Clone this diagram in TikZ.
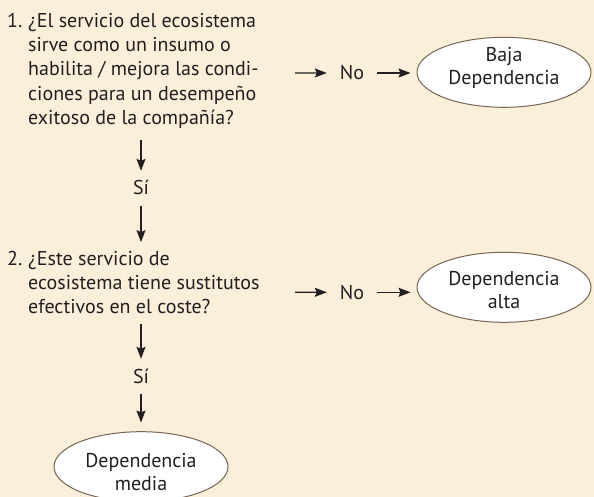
\documentclass[tikz,border=0pt]{standalone}
\usepackage{fontspec}
\setmainfont{PT Sans}
\usetikzlibrary{arrows.meta,shapes.geometric}
\definecolor{paper}{HTML}{FBEFDA}
\definecolor{ink}{HTML}{231F20}
\definecolor{rim}{HTML}{776553}
\def\qsize{\fontsize{20bp}{24.2bp}\selectfont}

\begin{document}
\begin{tikzpicture}[x=1bp, y=-1bp,
		arr/.style={draw=ink, line width=1.3bp, -{Stealth[length=12bp, width=9bp, inset=2bp]}},
		quest/.style={anchor=north west, inner sep=0pt, text=ink, font=\qsize},
		yeslbl/.style={anchor=base, inner sep=0pt, text=ink, font=\qsize, text height=24bp, text depth=11bp},
		nolbl/.style={anchor=base, inner sep=0pt, text=ink, font=\qsize, text height=14bp, text depth=0bp, minimum width=50bp},
		outcome/.style={ellipse, draw=rim, line width=1bp, fill=white, text=ink, inner sep=0pt,
			minimum width=174bp, minimum height=70bp, font=\fontsize{20bp}{23bp}\selectfont}]
		%%%%% START %%%%%
		
		\fill[paper] (0, 0) rectangle (594, 497);
		\useasboundingbox (0, 0) rectangle (594, 497);
		
		% questions
		\node[quest] (q1) at (7, 10.4) {\begin{tabular}[t]{@{}p{21bp}@{}l@{}}
				1.&¿El servicio del ecosistema\\
				&sirve como un insumo o\\
				&habilita / mejora las condi-\\
				&ciones para un desempeño\\
				&exitoso de la compañía?
			\end{tabular}};
		\node[quest] (q2) at (7, 248.1) {\begin{tabular}[t]{@{}p{21bp}@{}l@{}}
				2.&¿Este servicio de\\
				&ecosistema tiene sustitutos\\
				&efectivos en el coste?
			\end{tabular}};
		
		% answers
		\node[yeslbl] (si1) at (141, 195) {Sí};
		\node[yeslbl] (si2) at (141, 383) {Sí};
		\node[nolbl] (no1) at (352, 80) {No};
		\node[nolbl] (no2) at (352, 299.3) {No};
		\coordinate (q1no) at (295, 73);
		\coordinate (q2no) at (295, 292.3);
		
		% outcomes
		\node[outcome, text height=14bp, text depth=34.6bp] (baja) at (504, 72.3)
			{\begin{tabular}[t]{@{}c@{}}Baja\\Dependencia\end{tabular}};
		\node[outcome, text height=14bp, text depth=18.6bp] (alta) at (504, 287.3)
			{\begin{tabular}[t]{@{}c@{}}Dependencia\\alta\end{tabular}};
		\node[outcome, text height=14bp, text depth=13bp] (media) at (141, 466.7)
			{\begin{tabular}[t]{@{}c@{}}Dependencia\\media\end{tabular}};
		
		% arrows
		\draw[arr, shorten <=8.7bp] (q1.south -| si1) -- (si1);
		\draw[arr, shorten >=6bp] (si1) -- (q2.north -| si1);
		\draw[arr, shorten <=2.7bp] (q2.south -| si2) -- (si2);
		\draw[arr, shorten >=8.7bp] (si2) -- (media);
		\draw[arr] (q1no) -- (no1);
		\draw[arr, shorten >=6bp] (no1) -- (no1 -| baja.west);
		\draw[arr] (q2no) -- (no2);
		\draw[arr, shorten >=6bp] (no2) -- (no2 -| alta.west);
		
		%%%%% END %%%%%
	\end{tikzpicture}
\end{document}
